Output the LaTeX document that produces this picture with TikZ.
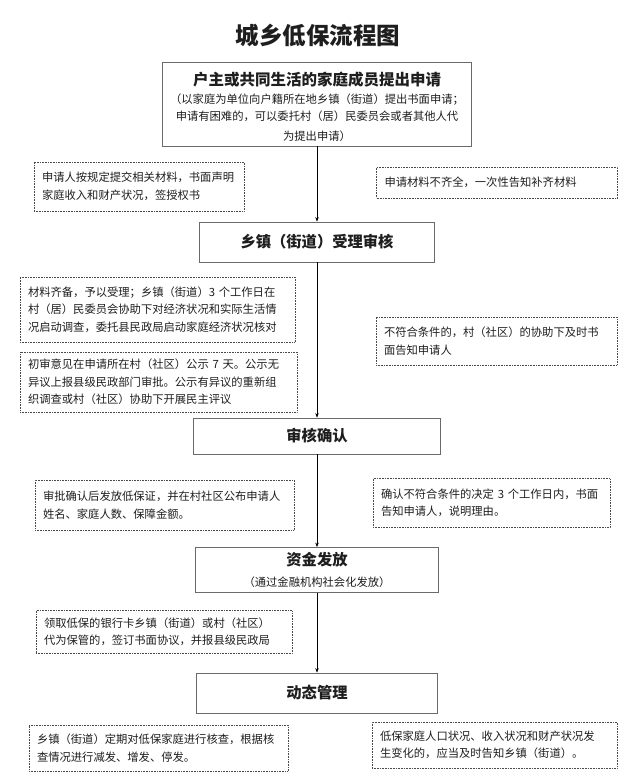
\documentclass[tikz,border=0pt]{standalone}
\usepackage{fontspec}
\setmainfont{Noto Sans CJK SC}
\usetikzlibrary{arrows.meta,positioning}
\definecolor{ink}{HTML}{1E1E1E}
\definecolor{frame}{HTML}{6A6A6A}
\definecolor{dotline}{HTML}{4A4A4A}

\begin{document}
\begin{tikzpicture}[x=1pt,y=-1pt,
  every node/.style={font=\fontsize{11.3}{17.5}\selectfont,text=ink,inner sep=0pt},
  stage/.style={draw=frame,line width=0.8pt,fill=white,align=center,font=\fontsize{15.3}{20}\selectfont\bfseries},
  note/.style 2 args={draw=dotline,densely dotted,line width=0.6pt,align=left,text width=#1,inner xsep=8pt,minimum height=#2},
  edge/.style={-{Stealth[length=4.5pt,width=3.5pt]},draw=black,line width=0.6pt}
]
\useasboundingbox (0,0) rectangle (634,782);

\node[font=\fontsize{23.5}{26}\selectfont\bfseries] (title) at (318,35) {城乡低保流程图};

% main stages
\node[stage,minimum width=309pt,minimum height=84pt,text width=300pt] (apply) at (317,104)
  {\vspace*{5pt}\raisebox{-5pt}[\height][\depth]{\fontsize{15.5}{20}\selectfont 户主或共同生活的家庭成员提出申请}\\[1pt]
   \fontsize{11.3}{17}\selectfont\mdseries （以家庭为单位向户籍所在地乡镇（街道）提出书面申请；\\
   申请有困难的，可以委托村（居）民委员会或者其他人代\\为提出申请）};
\node[stage,minimum width=235pt,minimum height=40pt] (accept) at (317,242) {乡镇（街道）受理审核};
\node[stage,minimum width=247pt,minimum height=36pt] (confirm) at (317,436) {审核确认};
\node[stage,minimum width=243pt,minimum height=45pt] (fund) at (317,570)
  {资金发放\\[1pt]{\fontsize{11.3}{17}\selectfont\mdseries （通过金融机构社会化发放）}};
\node[stage,minimum width=241pt,minimum height=40pt] (manage) at (317,693) {动态管理};

% notes
\node[note={194pt}{49pt}] (submit) at (139,186.5)
  {申请人按规定提交相关材料，书面声明\\家庭收入和财产状况，签授权书};
\node[note={225pt}{31pt}] (incomplete) at (497,182.5)
  {申请材料不齐全，一次性告知补齐材料};
\node[note={259pt}{65pt}] (survey) at (157.5,309.5)
  {材料齐备，予以受理；乡镇（街道）3 个工作日在\\村（居）民委员会协助下对经济状况和实际生活情\\况启动调查，委托县民政局启动家庭经济状况核对};
\node[note={261pt}{60pt}] (publicity) at (158.5,382)
  {初审意见在申请所在村（社区）公示 7 天。公示无\\异议上报县级民政部门审批。公示有异议的重新组\\织调查或村（社区）协助下开展民主评议};
\node[note={225pt}{48pt}] (reject) at (496.5,341)
  {不符合条件的，村（社区）的协助下及时书\\面告知申请人};
\node[note={243pt}{50pt}] (issue) at (164.5,505)
  {审批确认后发放低保证，并在村社区公布申请人\\姓名、家庭人数、保障金额。};
\node[note={221pt}{49pt}] (refuse) at (491.5,503)
  {确认不符合条件的决定 3 个工作日内，书面\\告知申请人，说明理由。};
\node[note={240pt}{43pt}] (bank) at (164,632)
  {领取低保的银行卡乡镇（街道）或村（社区）\\代为保管的，签订书面协议，并报县级民政局};
\node[note={243pt}{46pt}] (check) at (158.5,748)
  {乡镇（街道）定期对低保家庭进行核查，根据核\\查情况进行减发、增发、停发。};
\node[note={229pt}{46pt}] (report) at (494.5,745)
  {低保家庭人口状况、收入状况和财产状况发\\生变化的，应当及时告知乡镇（街道）。};

% flow
\draw[edge] (apply.south) -- (accept.north);
\draw[edge] (accept.south) -- (confirm.north);
\draw[edge] (confirm.south) -- (fund.north);
\draw[edge] (fund.south) -- (manage.north);
\end{tikzpicture}
\end{document}
